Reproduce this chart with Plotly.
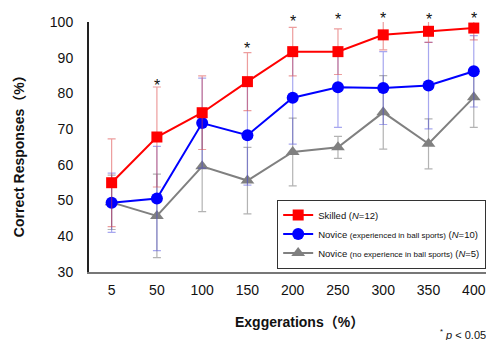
import plotly.graph_objects as go

categories = ["5", "50", "100", "150", "200", "250", "300", "350", "400"]
skilled = [55.0, 67.8, 74.6, 83.3, 91.7, 91.7, 96.4, 97.4, 98.3]
skilled_sd = [12.3, 14.0, 10.3, 8.1, 6.8, 6.4, 4.2, 3.1, 3.3]
novice_exp = [49.4, 50.6, 71.7, 68.3, 78.8, 81.7, 81.5, 82.2, 86.2]
novice_exp_sd = [8.3, 14.6, 12.6, 14.0, 13.0, 11.2, 10.2, 12.1, 10.0]
novice_no = [49.5, 45.7, 59.6, 55.6, 63.6, 64.9, 74.7, 65.9, 78.9]
novice_no_sd = [7.6, 11.7, 12.7, 9.3, 9.5, 3.1, 10.3, 7.0, 8.4]
star_cats = ["50", "150", "200", "250", "300", "350", "400"]
star_y = [82.3, 92.7, 100.1, 100.8, 101.1, 100.8, 100.9]
y_range = [30, 100]

FONT = "Liberation Sans, Arial, Noto Sans CJK SC, sans-serif"

fig = go.Figure()

fig.add_trace(go.Scatter(
    x=categories, y=novice_no, mode="lines+markers",
    name="Novice <span style='font-size:8px'>(no experience in ball sports)</span> (<i>N</i>=5)",
    line=dict(color="#808080", width=2),
    marker=dict(symbol="triangle-up", size=12, color="#808080"),
    error_y=dict(type="data", array=novice_no_sd, visible=True,
                 color="rgba(128,128,128,0.6)", thickness=1.2, width=4),
))
fig.add_trace(go.Scatter(
    x=categories, y=novice_exp, mode="lines+markers",
    name="Novice <span style='font-size:8px'>(experienced in ball sports)</span> (<i>N</i>=10)",
    line=dict(color="#0000FF", width=2),
    marker=dict(symbol="circle", size=12, color="#0000FF"),
    error_y=dict(type="data", array=novice_exp_sd, visible=True,
                 color="rgba(60,60,220,0.45)", thickness=1.2, width=4),
))
fig.add_trace(go.Scatter(
    x=categories, y=skilled, mode="lines+markers",
    name="Skilled (<i>N</i>=12)",
    line=dict(color="#FF0000", width=2),
    marker=dict(symbol="square", size=11, color="#FF0000"),
    error_y=dict(type="data", array=skilled_sd, visible=True,
                 color="rgba(220,60,60,0.5)", thickness=1.2, width=4),
))

annotations = []
for c, sy in zip(star_cats, star_y):
    annotations.append(dict(
        x=categories.index(c), y=(sy - y_range[0]) / (y_range[1] - y_range[0]),
        xref="x", yref="y domain", text="*",
        showarrow=False, font=dict(size=16, color="#111", family=FONT),
        xanchor="center", yanchor="middle"))

annotations += [
    dict(x=-0.176, y=0.476, xref="paper", yref="paper",
         text="<b>Correct Responses（%）</b>", textangle=-90,
         showarrow=False, font=dict(size=14, color="#111", family=FONT),
         xanchor="center", yanchor="middle"),
    dict(x=0.531, y=-0.2, xref="paper", yref="paper",
         text="<b>Exggerations（%）</b>",
         showarrow=False, font=dict(size=14, color="#111", family=FONT),
         xanchor="center", yanchor="middle"),
    dict(x=0.879, y=-0.248, xref="paper", yref="paper",
         text="<sup>*</sup> <i>p</i> &lt; 0.05",
         showarrow=False, font=dict(size=11, color="#111", family=FONT),
         xanchor="left", yanchor="middle"),
]

fig.update_layout(
    width=486, height=340,
    margin=dict(l=89, r=0, t=22, b=68, autoexpand=False),
    paper_bgcolor="white", plot_bgcolor="white",
    font=dict(family=FONT, size=14, color="#111"),
    showlegend=True,
    legend=dict(
        x=0.474, y=0.29, xanchor="left", yanchor="top",
        traceorder="reversed",
        bgcolor="white", bordercolor="#333", borderwidth=1,
        font=dict(size=9.5, family=FONT, color="#111"),
        itemwidth=30, tracegroupgap=0,
    ),
    xaxis=dict(
        type="category", range=[-0.5, 8.27], automargin=False,
        showgrid=False, zeroline=False,
        showline=True, linecolor="#777", linewidth=2,
        ticks="", tickfont=dict(size=14, family=FONT, color="#111"),
        ticklabelstandoff=4,
    ),
    yaxis=dict(
        range=y_range, tickvals=[30, 40, 50, 60, 70, 80, 90, 100], automargin=False,
        showgrid=False, zeroline=False,
        showline=True, linecolor="#222", linewidth=2,
        ticks="", tickfont=dict(size=14, family=FONT, color="#111"),
        ticklabelstandoff=11,
    ),
    annotations=annotations,
)

fig.write_html("out.html", config={"displayModeBar": False},
               post_script="document.body.style.margin='0';")
